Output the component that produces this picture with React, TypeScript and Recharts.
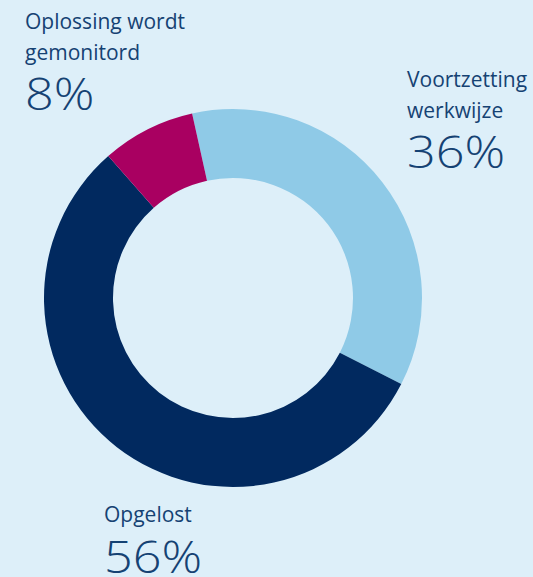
import { PieChart, Pie, Cell } from "recharts";

const categories = ["Voortzetting werkwijze", "Opgelost", "Oplossing wordt gemonitord"];
const labelLines = [["Voortzetting", "werkwijze"], ["Opgelost"], ["Oplossing wordt", "gemonitord"]];
const values = [36, 56, 8];
const colors = ["#8fcae7", "#01295f", "#a90061"];

// where each label block sits (left x, first baseline y, percent baseline y)
const labelPos = [
  { x: 407, y: 87, py: 168 },
  { x: 104, y: 522, py: 573 },
  { x: 25, y: 29, py: 110 },
];

const data = categories.map((name, i) => ({ name, value: values[i] }));

const TEXT = "#154273";
const FONT = "'Open Sans', sans-serif";

const renderLabel = (props: any) => {
  const i = props.index;
  const p = labelPos[i];
  return (
    <g key={"lbl" + i}>
      {labelLines[i].map((line, j) => (
        <text key={j} x={p.x} y={p.y + j * 31} fill={TEXT} fontSize={21} fontFamily={FONT}>
          {line}
        </text>
      ))}
      <text
        transform={`translate(${p.x},${p.py}) scale(1.12,1)`}
        fill={TEXT}
        fontSize={45}
        fontWeight={340}
        fontFamily={FONT}
      >
        {values[i]}%
      </text>
    </g>
  );
};

export default function App() {
  return (
    <div style={{ position: "absolute", left: 0, top: 0, width: 533, height: 577, background: "#ddeff9" }}>
      <PieChart width={533} height={577} margin={{ top: 0, right: 0, bottom: 0, left: 0 }}>
        <Pie
          data={data}
          dataKey="value"
          nameKey="name"
          cx={233}
          cy={298}
          innerRadius={120}
          outerRadius={189}
          startAngle={102.5}
          endAngle={-257.5}
          stroke="none"
          label={renderLabel}
          labelLine={false}
          isAnimationActive={false}
        >
          {data.map((d, i) => (
            <Cell key={d.name} fill={colors[i]} />
          ))}
        </Pie>
      </PieChart>
    </div>
  );
}
